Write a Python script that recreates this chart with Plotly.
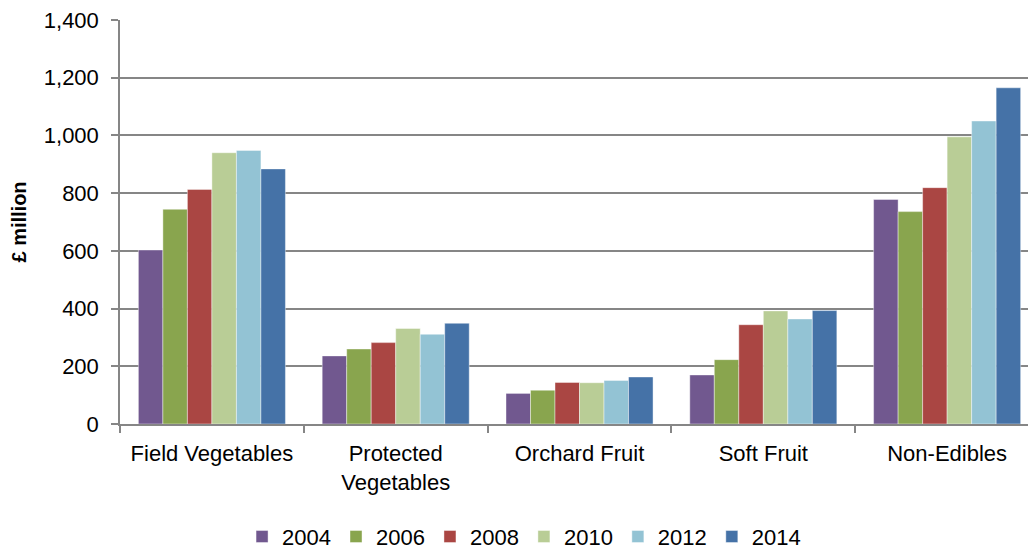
import plotly.graph_objects as go

categories = ["Field Vegetables", "Protected<br>Vegetables", "Orchard Fruit", "Soft Fruit", "Non-Edibles"]
years = ["2004", "2006", "2008", "2010", "2012", "2014"]
values = {
    "2004": [603, 236, 106, 170, 778],
    "2006": [744, 260, 117, 223, 736],
    "2008": [813, 282, 144, 344, 819],
    "2010": [940, 331, 143, 392, 995],
    "2012": [948, 311, 151, 364, 1050],
    "2014": [884, 349, 163, 393, 1165],
}
y_ticks = [0, 200, 400, 600, 800, 1000, 1200, 1400]
colors = ["#71588F", "#89A54E", "#AA4643", "#B9CD96", "#93C3D4", "#4572A7"]

fig = go.Figure()
for y, c in zip(years, colors):
    fig.add_trace(go.Bar(
        x=categories, y=values[y], name=y,
        marker=dict(color=c, line=dict(color="rgba(255,255,255,0.6)", width=0.7)),
    ))

font = "Liberation Sans, Arial, sans-serif"
fig.update_layout(
    width=1028, height=551,
    margin=dict(l=120, r=0, t=20, b=127, autoexpand=False),
    paper_bgcolor="white", plot_bgcolor="white",
    barmode="group", bargap=0.2, bargroupgap=0,
    font=dict(family=font, size=22, color="black"),
    showlegend=True,
    legend=dict(orientation="h", x=0.445, xanchor="center", y=-0.279, yanchor="middle",
                font=dict(size=22), itemwidth=30, tracegroupgap=0),
    xaxis=dict(range=[-0.5, 4.44], showline=True, linecolor="#868686", linewidth=1.5,
               ticks="outside", tickson="boundaries", ticklen=7, tickcolor="#868686",
               tickwidth=1.5, tickfont=dict(size=22), showgrid=False, automargin=False,
               ticklabelstandoff=9),
    yaxis=dict(range=[0, 1400], tickmode="array", tickvals=y_ticks,
               ticktext=[f"{v:,}" for v in y_ticks], showline=True,
               linecolor="#868686", linewidth=1.5, ticks="outside", ticklen=7,
               tickcolor="#868686", tickwidth=1.5, gridcolor="#868686", gridwidth=1.5,
               tickfont=dict(size=22), ticklabelstandoff=8, automargin=False,
               title=dict(text="<b>£ million</b>", font=dict(size=20), standoff=12)),
)
fig.write_html("out.html", config={"displayModeBar": False},
               post_script="document.body.style.margin='0';document.body.style.overflow='hidden';")
